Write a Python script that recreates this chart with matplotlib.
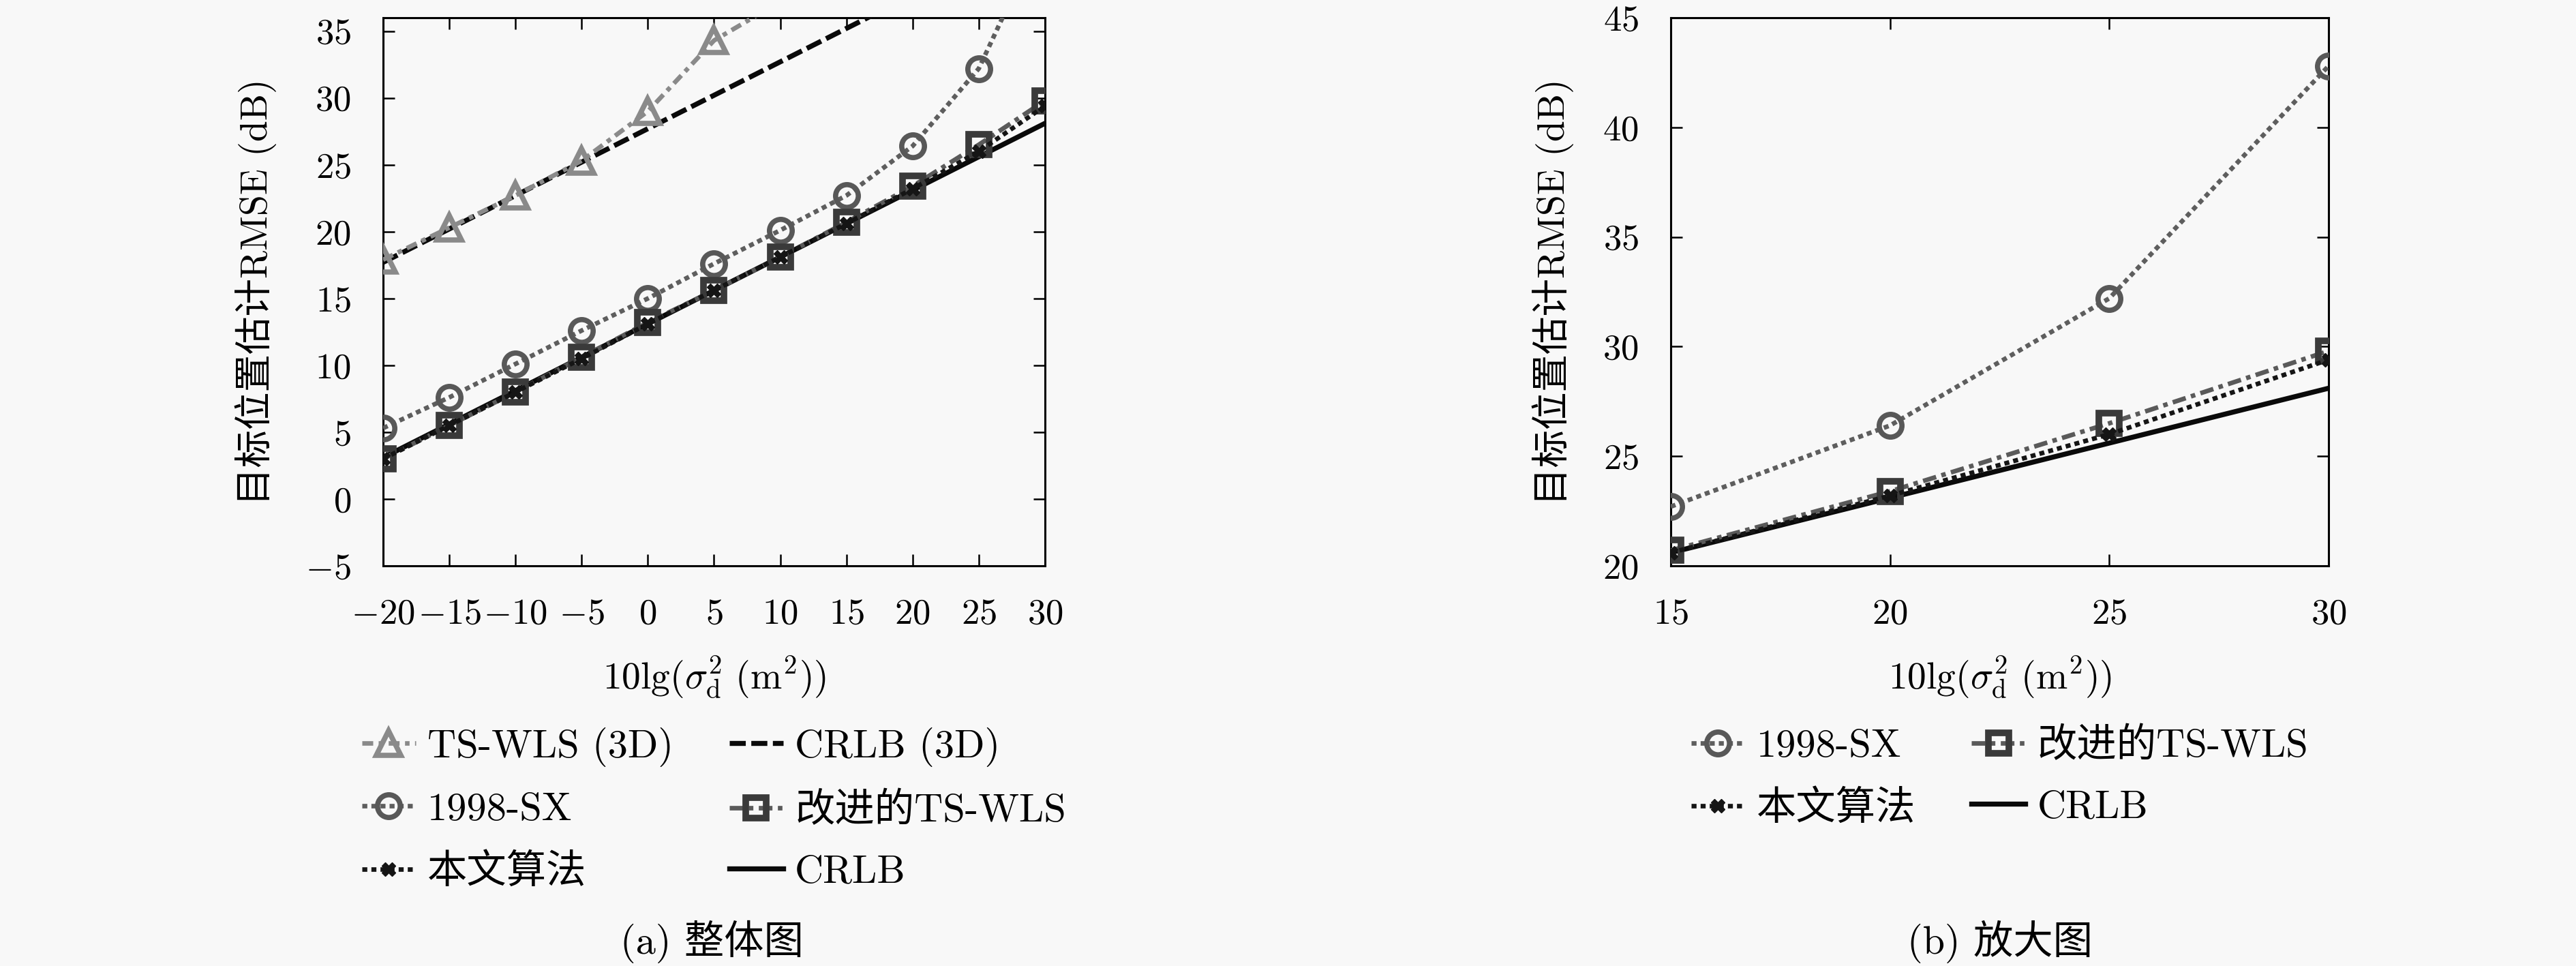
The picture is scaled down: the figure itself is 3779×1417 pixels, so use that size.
import matplotlib
matplotlib.use("Agg")
import matplotlib.pyplot as plt

plt.rcParams['font.family'] = ['cmr10', 'Noto Sans CJK SC']
plt.rcParams['mathtext.fontset'] = 'cm'
plt.rcParams['axes.formatter.use_mathtext'] = True
plt.rcParams['axes.unicode_minus'] = True

# data
snr = [-20, -15, -10, -5, 0, 5, 10, 15, 20, 25, 30]
snr_ts3d = [-20, -15, -10, -5, 0, 5, 10]
ts_wls_3d = [17.9, 20.3, 22.7, 25.3, 29.0, 34.3, 37.2]
crlb_3d = [17.7, 20.2, 22.7, 25.2, 27.7, 30.2, 32.7, 35.2, 37.7, 40.2, 42.7]
sx_1998 = [5.3, 7.6, 10.1, 12.6, 15.0, 17.6, 20.1, 22.7, 26.4, 32.2, 42.8]
ts_wls_imp = [3.0, 5.5, 8.0, 10.6, 13.2, 15.6, 18.1, 20.7, 23.4, 26.5, 29.8]
proposed = [3.0, 5.5, 8.0, 10.5, 13.1, 15.6, 18.1, 20.6, 23.2, 26.0, 29.4]
crlb = [3.1, 5.6, 8.1, 10.6, 13.1, 15.6, 18.1, 20.6, 23.1, 25.6, 28.1]

lab_ts3d = 'TS-WLS (3D)'
lab_crlb3d = 'CRLB (3D)'
lab_sx = '1998-SX'
lab_imp = '改进的TS-WLS'
lab_prop = '本文算法'
lab_crlb = 'CRLB'

xticks_a = [-20, -15, -10, -5, 0, 5, 10, 15, 20, 25, 30]
yticks_a = [-5, 0, 5, 10, 15, 20, 25, 30, 35]
xticks_b = [15, 20, 25, 30]
yticks_b = [20, 25, 30, 35, 40, 45]

BG = '#f8f8f8'
LW = 4.8
TICK_FS = 38
LEG_FS = 42
xlab = r'$10\mathrm{lg}(\sigma_{\mathrm{d}}^{2}\ (\mathrm{m}^{2}))$'
ylab = '目标位置估计RMSE (dB)'

fig = plt.figure(figsize=(37.8, 14.17), dpi=100, facecolor=BG)
axA = fig.add_axes([562/3780, 1-830/1417, 971/3780, 804/1417], facecolor=BG)
axB = fig.add_axes([2451/3780, 1-830/1417, 965/3780, 804/1417], facecolor=BG)


def style(ax):
    ax.tick_params(direction='in', top=True, right=True, length=12, width=1.8,
                   labelsize=TICK_FS, pad=34)
    for s in ax.spines.values():
        s.set_linewidth(2.2)
    ax.set_xlabel(xlab, fontsize=TICK_FS + 2, labelpad=26)
    ax.set_ylabel(ylab, fontsize=TICK_FS + 2, labelpad=30)


def sx_line(ax, x, y):
    return ax.plot(x, y, linestyle=(0, (1.1, 0.9)), color='#5e5e5e', lw=LW,
                   marker='o', ms=24, mfc='none', mec='#585858', mew=5.5,
                   label=lab_sx, zorder=4)[0]


def imp_line(ax, x, y):
    return ax.plot(x, y, linestyle=(0, (3, 1.2, 1, 1.2)), color='#5a5a5a', lw=LW,
                   marker='s', ms=22, mfc='none', mec='#3a3a3a', mew=7,
                   label=lab_imp, zorder=5)[0]


def prop_line(ax, x, y):
    return ax.plot(x, y, linestyle=(0, (1.1, 0.9)), color='#151515', lw=LW,
                   marker='X', ms=15, mfc='#151515', mec='#151515',
                   label=lab_prop, zorder=6)[0]


def crlb_line(ax, x, y):
    return ax.plot(x, y, linestyle='-', color='#0a0a0a', lw=LW + 0.5,
                   label=lab_crlb, zorder=3)[0]


leg_kw = dict(ncol=2, frameon=False, fontsize=LEG_FS, loc='upper center',
              bbox_to_anchor=(0.5, -0.258), handlelength=1.35, handletextpad=0.3,
              columnspacing=1.4, labelspacing=0.64, borderpad=0)

# (a) full view
h_ts = axA.plot(snr_ts3d, ts_wls_3d, linestyle=(0, (2.4, 1.2, 1, 1.2)), color='#8a8a8a',
                lw=LW, marker='^', ms=26, mfc='none', mec='#8a8a8a', mew=5.5,
                label=lab_ts3d, zorder=4)[0]
h_c3 = axA.plot(snr, crlb_3d, linestyle=(0, (3.2, 1.1)), color='#0a0a0a', lw=LW + 0.5,
                label=lab_crlb3d, zorder=3)[0]
h_sx = sx_line(axA, snr, sx_1998)
h_imp = imp_line(axA, snr, ts_wls_imp)
h_pr = prop_line(axA, snr, proposed)
h_cr = crlb_line(axA, snr, crlb)
axA.set_xlim(-20, 30)
axA.set_ylim(-5, 36)
axA.set_xticks(xticks_a)
axA.set_yticks(yticks_a)
style(axA)
axA.legend([h_ts, h_sx, h_pr, h_c3, h_imp, h_cr],
           [lab_ts3d, lab_sx, lab_prop, lab_crlb3d, lab_imp, lab_crlb], **leg_kw)
fig.text(1044/3780, 1-1381/1417, '(a) 整体图', ha='center', va='center', fontsize=LEG_FS)

# (b) zoomed view
bx = snr[7:]
b_sx = sx_line(axB, bx, sx_1998[7:])
b_imp = imp_line(axB, bx, ts_wls_imp[7:])
b_pr = prop_line(axB, bx, proposed[7:])
b_cr = crlb_line(axB, bx, crlb[7:])
axB.set_xlim(15, 30)
axB.set_ylim(20, 45)
axB.set_xticks(xticks_b)
axB.set_yticks(yticks_b)
style(axB)
axB.legend([b_sx, b_pr, b_imp, b_cr], [lab_sx, lab_prop, lab_imp, lab_crlb], **leg_kw)
fig.text(2934/3780, 1-1381/1417, '(b) 放大图', ha='center', va='center', fontsize=LEG_FS)

fig.savefig('out.png', dpi=100, facecolor=BG)
